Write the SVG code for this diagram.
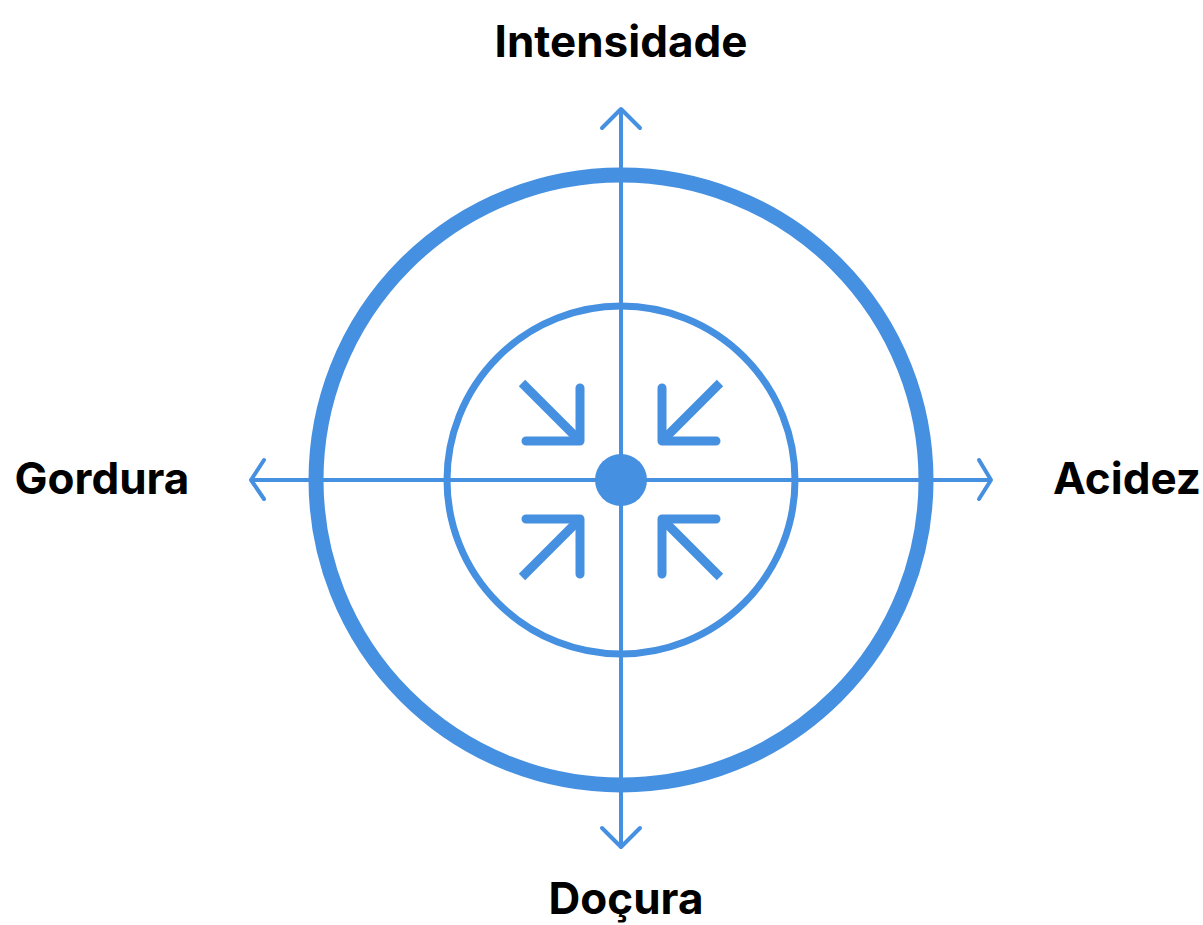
<svg xmlns="http://www.w3.org/2000/svg" width="1203" height="925" viewBox="0 0 1203 925">
<style>
.lbl{font-family:Inter,"Liberation Sans",sans-serif;font-weight:700;font-size:44px;fill:#000}
.ax{stroke:#4590E0;stroke-width:4;fill:none;stroke-linecap:round;stroke-linejoin:round}
.ar{stroke:#4590E0;stroke-width:9;fill:none;stroke-linecap:round;stroke-linejoin:round}
.dg{stroke:#4590E0;stroke-width:9;fill:none;stroke-linecap:butt}
</style>
<rect width="1203" height="925" fill="#fff"/>
<g id="outer-circle"><circle cx="621" cy="480" r="305" fill="none" stroke="#4590E0" stroke-width="15"/></g>
<g id="inner-circle"><circle cx="621" cy="480" r="174" fill="none" stroke="#4590E0" stroke-width="7"/></g>
<g id="connectors">
<line class="ax" x1="621" y1="110" x2="621" y2="846"/>
<line class="ax" x1="252" y1="480" x2="990" y2="480"/>
<polyline class="ax" points="602,128 621,109 640,128"/>
<polyline class="ax" points="602,828 621,847 640,828"/>
<polyline class="ax" points="264,460 251,480 264,499"/>
<polyline class="ax" points="979,460 991,480 979,499"/>
</g>
<g id="center"><circle cx="621" cy="480" r="26" fill="#4590E0"/></g>
<g id="arrows-in">
<line class="dg" x1="522" y1="383" x2="578" y2="439"/>
<polyline class="ar" points="580,388 580,441 526,441"/>
<line class="dg" x1="720" y1="383" x2="664" y2="439"/>
<polyline class="ar" points="662,388 662,441 716,441"/>
<line class="dg" x1="522" y1="577" x2="578" y2="521"/>
<polyline class="ar" points="580,574 580,519 526,519"/>
<line class="dg" x1="720" y1="577" x2="664" y2="521"/>
<polyline class="ar" points="662,574 662,519 716,519"/>
</g>
<g id="label-top"><text class="lbl" x="621" y="57" text-anchor="middle">Intensidade</text></g>
<g id="label-left"><text class="lbl" x="102" y="494" text-anchor="middle">Gordura</text></g>
<g id="label-right"><text class="lbl" x="1127" y="494" text-anchor="middle">Acidez</text></g>
<g id="label-bottom"><text class="lbl" x="626" y="914" text-anchor="middle">Doçura</text></g>
</svg>
